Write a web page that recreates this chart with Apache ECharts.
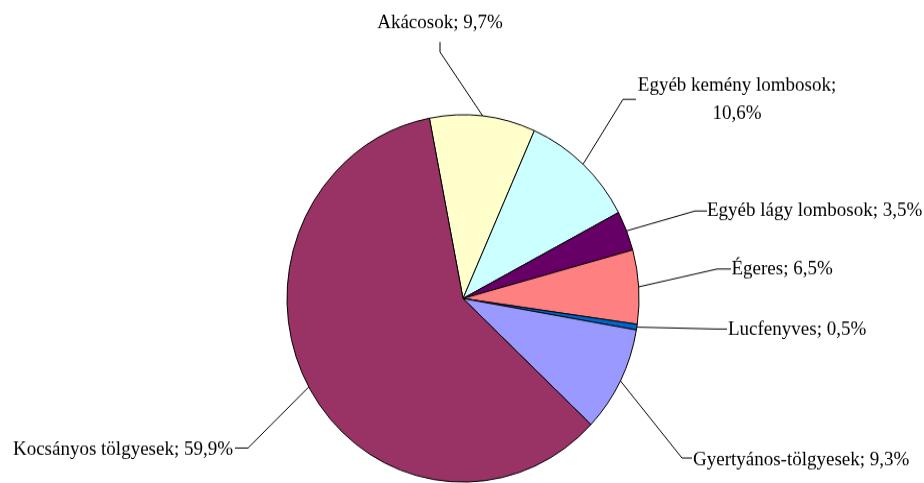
<!DOCTYPE html>
<html><head><meta charset="utf-8">
<script src="https://cdn.jsdelivr.net/npm/echarts@6/dist/echarts.min.js"></script>
<style>
html,body{margin:0;padding:0;background:#fff;overflow:hidden}
#wrap{width:924px;height:483px;overflow:hidden}
#chart{width:924px;height:463px;transform:scaleY(1.0432);transform-origin:0 0}
</style>
</head><body><div id="wrap"><div id="chart"></div></div>
<script>
// ---- data ----
const categories = ['Akácosok', 'Egyéb kemény lombosok', 'Egyéb lágy lombosok', 'Égeres', 'Lucfenyves', 'Gyertyános-tölgyesek', 'Kocsányos tölgyesek'];
const shares = [9.7, 10.6, 3.5, 6.5, 0.5, 9.3, 59.9];
const lineBreakAfterName = [false, true, false, false, false, false, false];

// ---- styles / layout ----
const colors = ['#FFFFCC', '#CCFFFF', '#660066', '#FF8080', '#0066CC', '#9999FF', '#993366'];
const S = 1.0432; // vertical stretch of the picture
// label anchors in picture pixels: text x/y, alignment, elbow point, line end point
const anchors = [
  {tx: 440, ty: 23, align: 'center', ex: 440, ey: 52, lx: 440, ly: 42},
  {tx: 737, ty: 99.6, align: 'center', ex: 623, ey: 99.3, lx: 636, ly: 99.3},
  {tx: 707, ty: 210.5, align: 'left', ex: 695, ey: 211, lx: 707, ly: 211},
  {tx: 731.5, ty: 269.5, align: 'left', ex: 717, ey: 269, lx: 731, ly: 269},
  {tx: 728, ty: 329.5, align: 'left', ex: 716, ey: 329, lx: 727, ly: 329},
  {tx: 693, ty: 460, align: 'left', ex: 682, ey: 458, lx: 692, ly: 458},
  {tx: 233, ty: 450, align: 'right', ex: 248, ey: 448, lx: 235, ly: 448}
];

const chart = echarts.init(document.getElementById('chart'), null, {renderer: 'canvas'});
const seriesData = categories.map((c, i) => ({
  name: c,
  value: shares[i],
  itemStyle: {color: colors[i]}
}));

chart.setOption({
  animation: false,
  backgroundColor: '#fff',
  series: [{
    type: 'pie',
    center: [463, 286.1],
    radius: [0, 176],
    startAngle: 101,
    clockwise: true,
    avoidLabelOverlap: false,
    data: seriesData,
    itemStyle: {borderColor: '#000', borderWidth: 1},
    emphasis: {disabled: true},
    label: {
      show: true,
      position: 'outside',
      fontFamily: 'Liberation Serif, Times New Roman, serif',
      fontSize: 19,
      lineHeight: 27,
      color: '#000',
      formatter: function (p) {
        const i = p.dataIndex;
        return p.name + ';' + (lineBreakAfterName[i] ? '\n' : ' ') +
          shares[i].toFixed(1).replace('.', ',') + '%';
      }
    },
    labelLine: {show: true, length: 10, length2: 10, smooth: false,
      lineStyle: {color: '#000', width: 1}},
    labelLayout: function (p) {
      const a = anchors[p.dataIndex];
      let start = p.labelLinePoints && p.labelLinePoints[0];
      return {
        x: a.tx,
        y: a.ty / S,
        align: a.align,
        verticalAlign: 'middle',
        labelLinePoints: [start, [a.ex, a.ey / S], [a.lx, a.ly / S]]
      };
    }
  }]
});
</script>
</body></html>
